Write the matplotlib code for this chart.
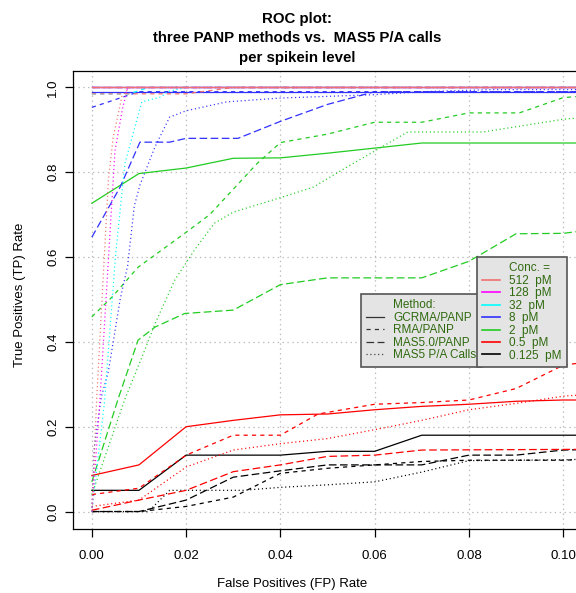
import matplotlib.pyplot as plt
from matplotlib.lines import Line2D

plt.rcParams['font.family'] = ['Liberation Sans', 'DejaVu Sans']
plt.rcParams['lines.scale_dashes'] = False

conc_labels = ['512  pM', '128  pM', '32  pM', '8  pM', '2  pM', '0.5  pM', '0.125  pM']
conc_colors = ['#F07070', '#FF00FF', '#00FFFF', '#3030FF', '#22CC22', '#FF0000', '#000000']
method_labels = ['GCRMA/PANP', 'RMA/PANP', 'MAS5.0/PANP', 'MAS5 P/A Calls']
method_styles = ['-', (0, (3, 3)), (0, (5.5, 2.5)), (0, (0.8, 2.0))]

x_ticks = [0.0, 0.02, 0.04, 0.06, 0.08, 0.10]
x_ticklabels = ['0.00', '0.02', '0.04', '0.06', '0.08', '0.10']
y_ticks = [0.0, 0.2, 0.4, 0.6, 0.8, 1.0]
y_ticklabels = ['0.0', '0.2', '0.4', '0.6', '0.8', '1.0']

# 512 pM
fp_512_gcrma = [0.0, 0.11]
tp_512_gcrma = [1.0, 1.0]
fp_512_rma = [0.0, 0.02, 0.03, 0.11]
tp_512_rma = [0.985, 0.985, 1.0, 1.0]
fp_512_mas5 = [0.0, 0.11]
tp_512_mas5 = [1.0, 1.0]
fp_512_pa = [0.0, 0.001, 0.0035, 0.0045, 0.0064, 0.008, 0.11]
tp_512_pa = [0.0, 0.26, 0.78, 0.88, 0.98, 1.0, 1.0]

# 128 pM
fp_128_gcrma = [0.0, 0.11]
tp_128_gcrma = [1.0, 1.0]
fp_128_rma = [0.0, 0.11]
tp_128_rma = [1.0, 1.0]
fp_128_mas5 = [0.0, 0.11]
tp_128_mas5 = [1.0, 1.0]
fp_128_pa = [0.0, 0.0017, 0.0049, 0.0065, 0.0076, 0.11]
tp_128_pa = [0.0, 0.26, 0.85, 0.95, 1.0, 1.0]

# 32 pM
fp_32_gcrma = [0.0, 0.11]
tp_32_gcrma = [1.0, 1.0]
fp_32_rma = [0.0, 0.008, 0.012, 0.11]
tp_32_rma = [0.985, 0.985, 1.0, 1.0]
fp_32_mas5 = [0.0, 0.11]
tp_32_mas5 = [1.0, 1.0]
fp_32_pa = [0.0, 0.0027, 0.005, 0.007, 0.0106, 0.0148, 0.016, 0.02, 0.11]
tp_32_pa = [0.0, 0.26, 0.6, 0.82, 0.966, 0.978, 0.99, 1.0, 1.0]

# 8 pM
fp_8_gcrma = [0.0, 0.11]
tp_8_gcrma = [0.99, 0.99]
fp_8_rma = [0.0, 0.01, 0.11]
tp_8_rma = [0.953, 0.99, 0.99]
fp_8_mas5 = [0.0, 0.006, 0.0102, 0.0165, 0.02, 0.031, 0.04, 0.05, 0.06, 0.11]
tp_8_mas5 = [0.647, 0.765, 0.871, 0.871, 0.88, 0.88, 0.92, 0.96, 0.99, 0.99]
fp_8_pa = [0.0, 0.0005, 0.002, 0.0035, 0.006, 0.0076, 0.009, 0.0102, 0.0134,
           0.0165, 0.02, 0.0286, 0.04, 0.06, 0.07, 0.085, 0.11]
tp_8_pa = [0.0, 0.15, 0.27, 0.33, 0.5, 0.58, 0.72, 0.77, 0.86,
           0.93, 0.945, 0.966, 0.975, 0.983, 0.99, 0.995, 0.995]

# 2 pM
fp_2_gcrma = [0.0, 0.01, 0.02, 0.03, 0.04, 0.05, 0.06, 0.07, 0.11]
tp_2_gcrma = [0.727, 0.797, 0.81, 0.833, 0.834, 0.845, 0.857, 0.869, 0.869]
fp_2_rma = [0.0, 0.0043, 0.0098, 0.0197, 0.025, 0.03, 0.035, 0.04, 0.05,
            0.06, 0.07, 0.08, 0.0907, 0.10, 0.11]
tp_2_rma = [0.459, 0.506, 0.576, 0.656, 0.70, 0.76, 0.82, 0.87, 0.89,
            0.918, 0.918, 0.94, 0.94, 0.976, 0.985]
fp_2_mas5 = [0.0, 0.0055, 0.0098, 0.0134, 0.0197, 0.03, 0.04, 0.05, 0.07,
             0.08, 0.09, 0.10, 0.11]
tp_2_mas5 = [0.07, 0.263, 0.404, 0.435, 0.467, 0.475, 0.535, 0.551, 0.551,
             0.59, 0.655, 0.656, 0.67]
fp_2_pa = [0.0, 0.007, 0.0112, 0.0134, 0.0176, 0.0218, 0.026, 0.03, 0.04,
           0.047, 0.053, 0.067, 0.083, 0.10, 0.11]
tp_2_pa = [0.04, 0.265, 0.38, 0.443, 0.546, 0.617, 0.68, 0.706, 0.74,
           0.765, 0.805, 0.895, 0.895, 0.925, 0.935]

# 0.5 pM
fp_05_gcrma = [0.0, 0.01, 0.02, 0.03, 0.04, 0.05, 0.06, 0.07, 0.08, 0.09, 0.10, 0.11]
tp_05_gcrma = [0.085, 0.11, 0.2, 0.215, 0.228, 0.23, 0.24, 0.248, 0.253, 0.26, 0.263, 0.263]
fp_05_rma = [0.0, 0.01, 0.02, 0.03, 0.04, 0.048, 0.06, 0.07, 0.08, 0.09, 0.10, 0.11]
tp_05_rma = [0.04, 0.055, 0.133, 0.18, 0.18, 0.23, 0.253, 0.257, 0.263, 0.29, 0.345, 0.36]
fp_05_mas5 = [0.0, 0.01, 0.02, 0.03, 0.04, 0.05, 0.06, 0.07, 0.11]
tp_05_mas5 = [0.003, 0.027, 0.05, 0.094, 0.11, 0.13, 0.133, 0.145, 0.147]
fp_05_pa = [0.0, 0.01, 0.02, 0.03, 0.04, 0.05, 0.06, 0.07, 0.08, 0.09, 0.10, 0.11]
tp_05_pa = [0.012, 0.027, 0.105, 0.145, 0.16, 0.172, 0.193, 0.215, 0.24, 0.255, 0.272, 0.28]

# 0.125 pM
fp_0125_gcrma = [0.0, 0.01, 0.02, 0.04, 0.05, 0.06, 0.07, 0.11]
tp_0125_gcrma = [0.05, 0.05, 0.133, 0.133, 0.142, 0.142, 0.18, 0.18]
fp_0125_rma = [0.0, 0.01, 0.02, 0.03, 0.04, 0.05, 0.06, 0.07, 0.08, 0.10, 0.11]
tp_0125_rma = [0.0, 0.0, 0.012, 0.034, 0.09, 0.102, 0.11, 0.118, 0.121, 0.121, 0.125]
fp_0125_mas5 = [0.0, 0.01, 0.02, 0.03, 0.04, 0.05, 0.07, 0.08, 0.09, 0.10, 0.11]
tp_0125_mas5 = [0.0, 0.0, 0.027, 0.081, 0.096, 0.11, 0.11, 0.133, 0.133, 0.145, 0.147]
fp_0125_pa = [0.0, 0.012, 0.0165, 0.032, 0.04, 0.05, 0.06, 0.07, 0.08, 0.10, 0.11]
tp_0125_pa = [0.0, 0.0, 0.05, 0.05, 0.057, 0.063, 0.07, 0.093, 0.12, 0.122, 0.125]

curves = [
    [(fp_512_gcrma, tp_512_gcrma), (fp_512_rma, tp_512_rma), (fp_512_mas5, tp_512_mas5), (fp_512_pa, tp_512_pa)],
    [(fp_128_gcrma, tp_128_gcrma), (fp_128_rma, tp_128_rma), (fp_128_mas5, tp_128_mas5), (fp_128_pa, tp_128_pa)],
    [(fp_32_gcrma, tp_32_gcrma), (fp_32_rma, tp_32_rma), (fp_32_mas5, tp_32_mas5), (fp_32_pa, tp_32_pa)],
    [(fp_8_gcrma, tp_8_gcrma), (fp_8_rma, tp_8_rma), (fp_8_mas5, tp_8_mas5), (fp_8_pa, tp_8_pa)],
    [(fp_2_gcrma, tp_2_gcrma), (fp_2_rma, tp_2_rma), (fp_2_mas5, tp_2_mas5), (fp_2_pa, tp_2_pa)],
    [(fp_05_gcrma, tp_05_gcrma), (fp_05_rma, tp_05_rma), (fp_05_mas5, tp_05_mas5), (fp_05_pa, tp_05_pa)],
    [(fp_0125_gcrma, tp_0125_gcrma), (fp_0125_rma, tp_0125_rma), (fp_0125_mas5, tp_0125_mas5), (fp_0125_pa, tp_0125_pa)],
]

W, H = 576, 593
fig = plt.figure(figsize=(W / 100, H / 100), dpi=100)
ax = fig.add_axes([73 / W, 64.5 / H, 509 / W, 458 / H])

# lowest concentration first so the 512 pM curves end up on top
for i in reversed(range(len(conc_labels))):
    for j in range(len(method_labels)):
        fp, tp = curves[i][j]
        ax.plot(fp, tp, color=conc_colors[i], linestyle=method_styles[j], linewidth=0.9)

ax.set_xlim(-0.004, 0.104)
ax.set_ylim(-0.04, 1.04)
ax.set_xticks(x_ticks)
ax.set_xticklabels(x_ticklabels)
ax.set_yticks(y_ticks)
ax.set_yticklabels(y_ticklabels, rotation=90, va='center')
ax.tick_params(direction='out', length=6, width=0.9, labelsize=9.5, pad=4)
ax.tick_params(axis='x', pad=9.5)
ax.grid(True, color='#BBBBBB', linestyle=(0, (1, 2.5)), linewidth=0.9)
ax.set_axisbelow(True)
for s in ax.spines.values():
    s.set_linewidth(0.9)

fig.text(297 / W, 1 - 38.5 / H, 'ROC plot:\nthree PANP methods vs.  MAS5 P/A calls\nper spikein level',
         ha='center', va='center', fontsize=10.8, fontweight='bold', linespacing=1.5)
fig.text(292 / W, 1 - 584 / H, 'False Positives (FP) Rate', ha='center', va='center', fontsize=9.5)
fig.text(20 / W, 1 - 295 / H, 'True Positives (TP) Rate', ha='center', va='center',
         rotation=90, fontsize=9.5)

text_col = '#2F6A0F'
m_handles = [Line2D([], [], color='none', label='Method:')]
for j in range(len(method_labels)):
    m_handles.append(Line2D([], [], color='#333333', linewidth=0.9,
                            linestyle=method_styles[j], label=method_labels[j]))
leg1 = ax.legend(handles=m_handles, loc='upper left', bbox_to_anchor=(361 / W, 1 - 294 / H),
                 bbox_transform=fig.transFigure, fancybox=False, facecolor='#E4E4E4',
                 edgecolor='#555555', framealpha=1, fontsize=8.5, labelcolor=text_col,
                 handlelength=1.5, handletextpad=0.8, labelspacing=0.04, borderpad=0.45,
                 borderaxespad=0)
leg1.get_frame().set_linewidth(1.2)
ax.add_artist(leg1)

c_handles = [Line2D([], [], color='none', label='Conc. =')]
for i in range(len(conc_labels)):
    c_handles.append(Line2D([], [], color=conc_colors[i], linewidth=1.2, label=conc_labels[i]))
leg2 = ax.legend(handles=c_handles, loc='upper left', bbox_to_anchor=(477 / W, 1 - 257 / H),
                 bbox_transform=fig.transFigure, fancybox=False, facecolor='#E4E4E4',
                 edgecolor='#555555', framealpha=1, fontsize=8.5, labelcolor=text_col,
                 handlelength=1.5, handletextpad=0.8, labelspacing=0.04, borderpad=0.45,
                 borderaxespad=0)
leg2.get_frame().set_linewidth(1.2)

fig.savefig('out.png', dpi=100)
